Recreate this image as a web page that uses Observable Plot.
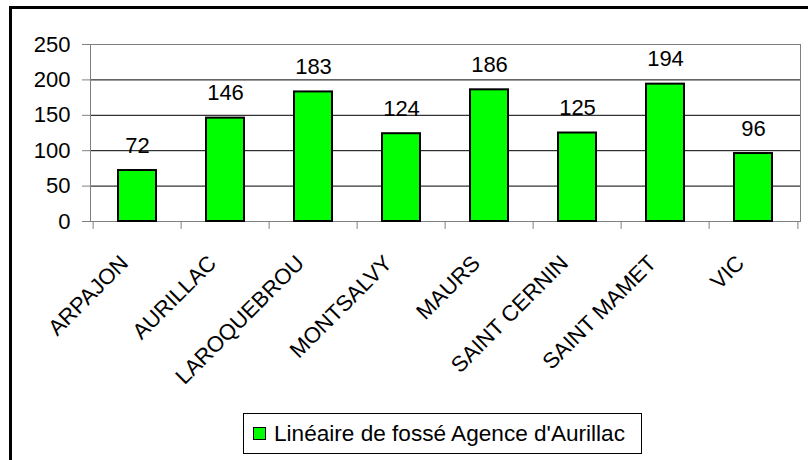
<!DOCTYPE html>
<html>
<head>
<meta charset="utf-8">
<script src="https://cdn.jsdelivr.net/npm/d3@7"></script>
<script src="https://cdn.jsdelivr.net/npm/@observablehq/plot@0.6"></script>
<style>
  html, body { margin: 0; padding: 0; background: #fff; width: 808px; height: 460px; overflow: hidden; }
  #frame { position: absolute; left: 9px; top: 6px; width: 900px; height: 500px;
           border-left: 3px solid #000; border-top: 3px solid #000; }
  #chart { position: absolute; left: 0; top: 0; }
  #legend { position: absolute; left: 243px; top: 413px; width: 399px; height: 41px; box-sizing: border-box;
            padding: 0 0 0 9px; border: 1px solid #000; background: #fff; display: flex; align-items: center;
            font-family: "Liberation Sans", Arial, sans-serif; font-size: 22.6px; color: #000; white-space: nowrap; }
  #legend .sw { width: 11px; height: 11px; background: #00ff00; border: 1px solid #000; margin-right: 8px; flex: none; }
</style>
</head>
<body>
<div id="frame"></div>
<div id="chart"></div>
<div id="legend"><span class="sw"></span><span id="legendText"></span></div>
<script>
const categories = ["ARPAJON", "AURILLAC", "LAROQUEBROU", "MONTSALVY", "MAURS", "SAINT CERNIN", "SAINT MAMET", "VIC"];
const values = [72, 146, 183, 124, 186, 125, 194, 96];
const yTicks = [0, 50, 100, 150, 200, 250];
const seriesName = "Linéaire de fossé Agence d'Aurillac";

const data = categories.map((c, i) => ({cat: c, value: values[i]}));

const W = 808, H = 410, mL = 90, mR = 8, mT = 44, mB = 189;
const step = (W - mL - mR) / categories.length;
const font = "Liberation Sans, Arial, sans-serif";

const chart = Plot.plot({
  width: W, height: H,
  marginLeft: mL, marginRight: mR, marginTop: mT, marginBottom: mB,
  style: {fontFamily: font, color: "#000", background: "transparent"},
  x: {type: "band", domain: categories, paddingInner: 0.57, paddingOuter: 0.285, axis: null},
  y: {domain: [0, 250], axis: null},
  marks: [
    Plot.gridY(yTicks.filter(v => v > 0 && v < 250), {stroke: "#000", strokeOpacity: 1}),
    Plot.frame({stroke: "#808080"}),
    Plot.axisY({ticks: yTicks, tickSize: 8, tickPadding: 12, fontSize: 22, stroke: "#808080", fill: "#000", label: null}),
    Plot.axisX({ticks: categories, tickSize: 8, tickFormat: () => "", dx: -step / 2, stroke: "#808080", label: null}),
    Plot.axisX({ticks: categories.slice(-1), tickSize: 8, tickFormat: () => "", dx: step / 2, stroke: "#808080", label: null}),
    Plot.text(categories, {x: d => d, y: () => 0, text: d => d, rotate: -45, textAnchor: "end", lineAnchor: "bottom",
                           dx: -8, dy: 43, fontSize: 22, fill: "#000"}),
    Plot.barY(data, {x: "cat", y: "value", fill: "#00ff00", stroke: "#000", strokeWidth: 2}),
    Plot.text(data, {x: "cat", y: "value", text: d => String(d.value), dy: -18, lineAnchor: "bottom", fontSize: 22, fill: "#000"})
  ]
});
document.getElementById("chart").appendChild(chart);
document.getElementById("legendText").textContent = seriesName;
</script>
</body>
</html>
